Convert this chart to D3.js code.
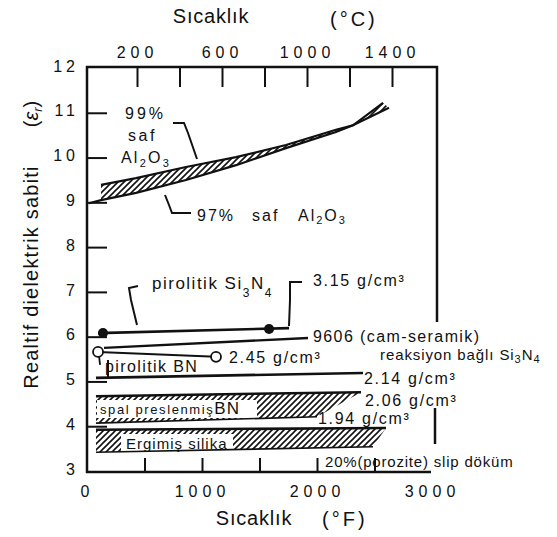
<!DOCTYPE html>
<html>
<head>
<meta charset="utf-8">
<script src="https://cdn.jsdelivr.net/npm/d3@7"></script>
<style>
  body { margin: 0; background: #fff; }
  svg text { font-family: "Liberation Sans", Arial, Helvetica, sans-serif; fill: #111; }
</style>
</head>
<body>
<svg id="chart" width="557" height="537"></svg>
<script>
// Axis ticks and labels
const fahrenheitTicks = [500, 1000, 1500, 2000, 2500];
const fahrenheitLabels = [0, 1000, 2000, 3000];
const celsiusTicks = [200, 400, 600, 800, 1000, 1200, 1400];
const celsiusLabels = [200, 600, 1000, 1400];
const dielectricTicks = [4, 5, 6, 7, 8, 9, 10, 11];
const dielectricLabels = [3, 4, 5, 6, 7, 8, 9, 10, 11, 12];

// Series as [temperature °F, relative dielectric constant]
const alumina99 = [[122, 9.39], [426, 9.54], [861, 9.79], [1296, 10.01], [1730, 10.28], [2165, 10.62], [2313, 10.72], [2626, 11.11]];
const alumina97 = [[17, 8.98], [122, 9.05], [426, 9.21], [861, 9.50], [1296, 9.83], [1730, 10.21], [2165, 10.57], [2313, 10.72], [2574, 11.22]];
const pyroSi3N4 = [[96, 6.08], [1757, 6.19]];
const pyroSi3N4Marks = [[139, 6.08], [1583, 6.17]];
const glassCeramic9606 = [[148, 5.75], [1922, 5.97]];
const pyroBN = [[96, 5.66], [1122, 5.55]];
const reactionSi3N4 = [[78, 5.08], [2400, 5.19]];
const hotPressedBNTop = [[78, 4.67], [2383, 4.76]];
const hotPressedBNBottom = [[78, 4.07], [2000, 4.21]];
const fusedSilicaTop = [[78, 3.92], [2600, 3.96]];
const fusedSilicaBottom = [[78, 3.42], [2487, 3.54]];

const svg = d3.select("#chart");
const ink = "#111";

const x = d3.scaleLinear().domain([0, 3000]).range([87, 432]);
const xc = d3.scaleLinear().domain([200, 1400]).range([137, 392]);
const y = d3.scaleLinear().domain([3, 12]).range([471, 68]);
const line = d3.line().x(d => x(d[0])).y(d => y(d[1]));

// Diagonal hatch fill
const defs = svg.append("defs");
const pat = defs.append("pattern").attr("id", "hatch").attr("patternUnits", "userSpaceOnUse")
  .attr("width", 6).attr("height", 6);
pat.append("path").attr("d", "M-1,1 l2,-2 M0,6 l6,-6 M5,7 l2,-2")
  .attr("stroke", ink).attr("stroke-width", 1.6);

// Frame
const frame = svg.append("g").attr("stroke", ink).attr("stroke-width", 2.5).attr("fill", "none");
frame.append("line").attr("x1", 87).attr("x2", 87).attr("y1", 66).attr("y2", 473);
frame.append("line").attr("x1", 86).attr("x2", 438).attr("y1", 67).attr("y2", 67);
frame.append("line").attr("x1", 86).attr("x2", 431).attr("y1", 472).attr("y2", 472);
frame.append("line").attr("x1", 437).attr("x2", 437).attr("y1", 66).attr("y2", 322);
frame.append("line").attr("x1", 435).attr("x2", 435).attr("y1", 408).attr("y2", 444);

function styleAxis(g, size, ls) {
  g.select(".domain").remove();
  g.selectAll(".tick line").attr("stroke", ink).attr("stroke-width", 2);
  g.selectAll("text").attr("fill", ink).style("font-size", size + "px")
    .style("letter-spacing", ls + "px").attr("font-family", null);
}
const plain = d3.format("d");

// Top axis (°C)
svg.append("g").attr("transform", "translate(0,67)")
  .call(d3.axisTop(xc).tickValues(celsiusTicks).tickSizeInner(-20).tickSizeOuter(0)
    .tickPadding(9).tickFormat(d => celsiusLabels.includes(d) ? plain(d) : ""))
  .call(g => styleAxis(g, 16, 5));

// Bottom axis (°F)
svg.append("g").attr("transform", "translate(0,472)")
  .call(d3.axisBottom(x).tickValues(fahrenheitTicks).tickSizeInner(-14).tickSizeOuter(0).tickFormat(""))
  .call(g => styleAxis(g, 16, 5));
svg.append("g").attr("transform", "translate(0,472)")
  .call(d3.axisBottom(x).tickValues(fahrenheitLabels).tickSize(0).tickPadding(14).tickFormat(plain))
  .call(g => styleAxis(g, 16, 5));

// Left axis (εr)
svg.append("g").attr("transform", "translate(87,0)")
  .call(d3.axisLeft(y).tickValues(dielectricTicks).tickSizeInner(-20).tickSizeOuter(0).tickFormat(""))
  .call(g => styleAxis(g, 16, 4));
svg.append("g").attr("transform", "translate(87,0)")
  .call(d3.axisLeft(y).tickValues(dielectricLabels).tickSize(0).tickPadding(8).tickFormat(plain))
  .call(g => { styleAxis(g, 16, 4); g.selectAll("text").attr("dy", "0.2em"); });

// Axis titles
function label(tx, ty, str, size, ls, anchor) {
  return svg.append("text").attr("x", tx).attr("y", ty).text(str)
    .style("font-size", size + "px").style("letter-spacing", (ls || 0) + "px")
    .attr("text-anchor", anchor || "start");
}
label(211, 23, "Sıcaklık", 20, 0.8, "middle");
label(330, 26, "(°C)", 20, 3);
label(254, 525, "Sıcaklık", 20, 0.8, "middle");
label(322, 526, "(°F)", 20, 3);

svg.append("text").attr("transform", "translate(31,277) rotate(-90)")
  .attr("text-anchor", "middle").attr("dy", "0.35em")
  .style("font-size", "20px").style("letter-spacing", "1.2px")
  .text("Realtif dielektrik sabiti");
const er = svg.append("text").attr("transform", "translate(31,114) rotate(-90)")
  .attr("text-anchor", "middle").attr("dy", "0.35em").style("font-size", "20px");
er.append("tspan").text("(");
er.append("tspan").text("ε").style("font-style", "italic");
er.append("tspan").text("r").attr("dy", 4).style("font-size", "13px").style("font-style", "italic");
er.append("tspan").text(")").attr("dy", -4);

// Rich text with subscripts: parts are [string, downward offset]
function rich(tx, ty, parts, size, ls) {
  const t = svg.append("text").attr("x", tx).attr("y", ty)
    .style("font-size", size + "px").style("letter-spacing", (ls || 0) + "px");
  let cur = 0;
  parts.forEach(([s, off]) => {
    off = off || 0;
    const sp = t.append("tspan").text(s).attr("dy", off - cur);
    if (off) sp.style("font-size", Math.round(size * 0.7) + "px");
    cur = off;
  });
  return t;
}

// Al2O3 band
const bandPoly = alumina99.concat(alumina97.filter(d => d[0] >= alumina99[0][0]).reverse());
svg.append("path").attr("d", line(bandPoly) + "Z").attr("fill", "url(#hatch)").attr("stroke", "none");
svg.append("path").attr("d", line(alumina99)).attr("fill", "none").attr("stroke", ink).attr("stroke-width", 2.2);
svg.append("path").attr("d", line(alumina97)).attr("fill", "none").attr("stroke", ink).attr("stroke-width", 2.2);

// Hot-pressed BN band
svg.append("path").attr("d", line(hotPressedBNTop.concat(hotPressedBNBottom.slice().reverse())) + "Z")
  .attr("fill", "url(#hatch)");
// Fused silica band
svg.append("path").attr("d", line(fusedSilicaTop.concat(fusedSilicaBottom.slice().reverse())) + "Z")
  .attr("fill", "url(#hatch)");

// Label boxes over the hatching
svg.append("rect").attr("x", 97).attr("y", 400).attr("width", 160).attr("height", 18).attr("fill", "#fff");
svg.append("rect").attr("x", 121).attr("y", 434).attr("width", 112).attr("height", 19).attr("fill", "#fff");

const lines = svg.append("g").attr("fill", "none").attr("stroke", ink);
lines.append("path").attr("d", line(hotPressedBNTop)).attr("stroke-width", 2.6);
lines.append("path").attr("d", line(hotPressedBNBottom)).attr("stroke-width", 1.6);
lines.append("path").attr("d", line(fusedSilicaTop)).attr("stroke-width", 2.6);
lines.append("path").attr("d", line(fusedSilicaBottom)).attr("stroke-width", 1.6);
lines.append("path").attr("d", line(reactionSi3N4)).attr("stroke-width", 2.6);
lines.append("path").attr("d", line(glassCeramic9606)).attr("stroke-width", 2.4);
lines.append("path").attr("d", line(pyroSi3N4)).attr("stroke-width", 2.6);
lines.append("path").attr("d", line(pyroBN)).attr("stroke-width", 2);

// Markers
svg.selectAll(".dot").data(pyroSi3N4Marks).join("circle")
  .attr("cx", d => x(d[0])).attr("cy", d => y(d[1])).attr("r", 5).attr("fill", ink);
svg.append("line").attr("x1", x(pyroBN[0][0]) + 1).attr("x2", x(pyroBN[0][0]) + 2)
  .attr("y1", y(pyroBN[0][1]) + 4).attr("y2", y(pyroBN[0][1]) + 13).attr("stroke", ink).attr("stroke-width", 1.8);
svg.selectAll(".ring").data(pyroBN).join("circle")
  .attr("cx", d => x(d[0])).attr("cy", d => y(d[1])).attr("r", 5)
  .attr("fill", "#fff").attr("stroke", ink).attr("stroke-width", 1.8);

// Leader lines
const leaders = [
  [[173, 123], [184, 123], [188, 133], [197, 159]],
  [[165, 195], [169, 205], [172, 213], [191, 213]],
  [[138, 286], [129, 288], [131, 300], [137, 325]],
  [[302, 282], [290, 282], [290, 300], [289, 326]],
  [[108, 360], [108, 377]]
];
svg.append("g").selectAll("path").data(leaders).join("path")
  .attr("d", d3.line()).attr("fill", "none").attr("stroke", ink).attr("stroke-width", 2);

// Annotations
label(125, 119, "99%", 16, 3);
label(128, 141, "saf", 16, 2.5);
rich(121, 163, [["Al"], ["2", 4], ["O"], ["3", 4]], 16, 2.2);
label(197, 221, "97%", 16, 2);
label(252, 221, "saf", 16, 2);
rich(298, 221, [["Al"], ["2", 3], ["O"], ["3", 3]], 16, 2);
rich(152, 289, [["pirolitik Si"], ["3", 8], ["N"], ["4", 8]], 17, 1.5);
label(313, 286, "3.15 g/cm³", 16, 1.7);
label(313, 342, "9606 (cam-seramik)", 16, 1.4);
label(229, 363, "2.45 g/cm³", 16, 1.7);
label(105, 372, "pirolitik BN", 16, 1.4);
rich(380, 360, [["reaksiyon bağlı Si"], ["3", 3], ["N"], ["4", 3]], 15, 0.9);
label(364, 384, "2.14 g/cm³", 16, 1.7);
label(365, 406, "2.06 g/cm³", 16, 1.7);
label(318, 424, "1.94 g/cm³", 16, 1.7);
const spal = svg.append("text").attr("x", 100).attr("y", 414);
spal.append("tspan").text("spal preslenmiş").style("font-size", "13px").style("letter-spacing", "1.6px");
spal.append("tspan").text("BN").style("font-size", "17px").style("letter-spacing", "1px");
label(126, 449, "Ergimiş silika", 15, 1);
label(325, 467, "20%(porozite) slip döküm", 15, 0.8);
</script>
</body>
</html>
